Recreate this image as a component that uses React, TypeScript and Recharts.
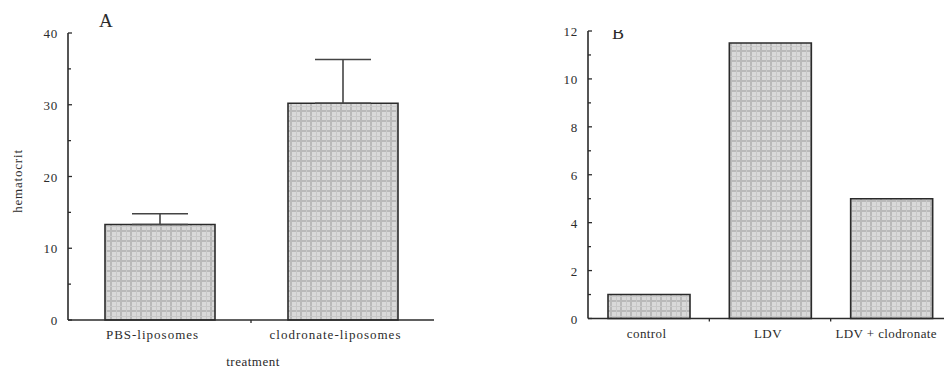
import React from 'react';
import { BarChart, Bar, XAxis, YAxis, ErrorBar } from 'recharts';

// panel A
const categoriesA = ['PBS-liposomes', 'clodronate-liposomes'];
const valuesA = [13.3, 30.2];
const errorsA = [1.5, 6.1];
const ticksA = [0, 5, 10, 15, 20, 25, 30, 35, 40];

// panel B
const categoriesB = ['control', 'LDV', 'LDV + clodronate'];
const valuesB = [1.0, 11.5, 5.0];
const ticksB = [0, 1, 2, 3, 4, 5, 6, 7, 8, 9, 10, 11, 12];

const dataA = categoriesA.map((name, i) => ({ name, value: valuesA[i], err: [0, errorsA[i]] }));
const dataB = categoriesB.map((name, i) => ({ name, value: valuesB[i] }));

const FONT = '"Liberation Serif", "Times New Roman", serif';
const INK = '#2b2b2b';

const YTick = ({ x, y, payload, step }: any) => {
  const major = payload.value % step === 0;
  return (
    <g>
      <line x1={x} x2={x + (major ? 4 : 3)} y1={y} y2={y} stroke={INK} strokeWidth={1.3} />
      {major && (
        <text x={x - 10} y={y} dy={5} textAnchor="end" fontFamily={FONT} fontSize={13} fill={INK} letterSpacing={0.8}>
          {payload.value}
        </text>
      )}
    </g>
  );
};

// category label plus a small boundary tick between bands
const XTick = ({ x, y, payload, index, width, visibleTicksCount, dx, lastEnd, spacing }: any) => {
  const band = width / visibleTicksCount;
  const last = index === visibleTicksCount - 1;
  const pinned = last && lastEnd != null;
  return (
    <g>
      {!last && (
        <line x1={x + band / 2} x2={x + band / 2} y1={y} y2={y + 3} stroke={INK} strokeWidth={1.3} />
      )}
      <text
        x={pinned ? lastEnd : x + dx}
        y={y + 19}
        textAnchor={pinned ? 'end' : 'middle'}
        fontFamily={FONT}
        fontSize={13}
        fill={INK}
        letterSpacing={spacing}
      >
        {payload.value}
      </text>
    </g>
  );
};

const Panel = ({ data, ticks, step, max, barSize, width, margin, axisHeight, dx, lastEnd, spacing, withError }: any) => (
  <BarChart width={width} height={370} data={data} margin={margin}>
    <XAxis
      dataKey="name"
      height={axisHeight}
      tickSize={0}
      tickMargin={0}
      interval={0}
      tick={<XTick dx={dx} lastEnd={lastEnd} spacing={spacing} />}
      axisLine={{ stroke: INK, strokeWidth: 1.6 }}
      tickLine={false}
    />
    <YAxis
      width={68}
      domain={[0, max]}
      ticks={ticks}
      interval={0}
      tickSize={0}
      tickMargin={0}
      tick={<YTick step={step} />}
      axisLine={{ stroke: INK, strokeWidth: 1.6 }}
      tickLine={false}
    />
    <Bar dataKey="value" fill="url(#cellgrid)" stroke={INK} strokeWidth={1.6} barSize={barSize} isAnimationActive={false}>
      {withError && <ErrorBar dataKey="err" direction="y" width={28} stroke="#444" strokeWidth={1.6} />}
    </Bar>
  </BarChart>
);

export default function App() {
  return (
    <div style={{ position: 'fixed', left: 0, top: 0, width: 944, height: 370, overflow: 'hidden', background: '#fff' }}>
      <svg width={0} height={0} style={{ position: 'absolute' }}>
        <defs>
          <pattern id="cellgrid" patternUnits="userSpaceOnUse" width={10} height={10}>
            <rect width={10} height={10} fill="#d9d9d9" />
            <rect x={0} y={0} width={2} height={10} fill="#b9b9b9" />
            <rect x={0} y={0} width={10} height={2} fill="#b9b9b9" />
            <rect x={6} y={0} width={1} height={10} fill="#c8c8c8" />
            <rect x={0} y={6} width={10} height={1} fill="#c8c8c8" />
          </pattern>
          <clipPath id="clipB">
            <rect x={600} y={30} width={40} height={12} />
          </clipPath>
        </defs>
      </svg>
      <div style={{ position: 'absolute', left: 0, top: 0 }}>
        <Panel
          data={dataA}
          ticks={ticksA}
          step={10}
          max={40}
          barSize={110}
          width={440}
          margin={{ top: 33, right: 6, bottom: 0, left: 0 }}
          axisHeight={50}
          dx={-7}
          spacing={1}
          withError
        />
      </div>
      <div style={{ position: 'absolute', left: 520, top: 0 }}>
        <Panel
          data={dataB}
          ticks={ticksB}
          step={2}
          max={12}
          barSize={82}
          width={434}
          margin={{ top: 31, right: 2, bottom: 0, left: 0 }}
          axisHeight={51.5}
          dx={-2}
          lastEnd={417}
          spacing={0.4}
        />
      </div>
      <svg width={944} height={370} style={{ position: 'absolute', left: 0, top: 0, pointerEvents: 'none' }}>
        <text x={99} y={27} fontFamily={FONT} fontSize={19} fill={INK}>A</text>
        <text x={612} y={39} fontFamily={FONT} fontSize={18} fill={INK} clipPath="url(#clipB)">B</text>
        <text
          x={18}
          y={181}
          transform="rotate(-90 18 181)"
          dy={4}
          textAnchor="middle"
          fontFamily={FONT}
          fontSize={13}
          fill={INK}
          letterSpacing={0.8}
        >
          hematocrit
        </text>
        <text x={253} y={366} textAnchor="middle" fontFamily={FONT} fontSize={13} fill={INK} letterSpacing={0.5}>
          treatment
        </text>
      </svg>
    </div>
  );
}
